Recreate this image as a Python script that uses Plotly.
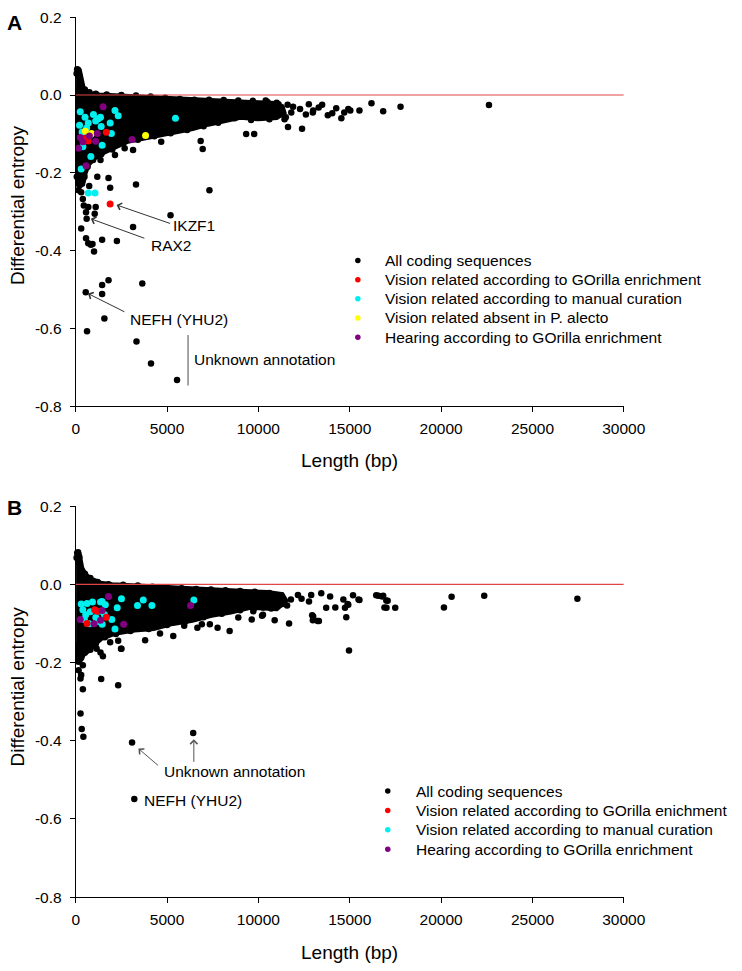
import plotly.graph_objects as go

W, H = 742, 971
FONT = "Liberation Sans, Arial, sans-serif"

# ---------------- Panel A data ----------------
A_core = [(20, 0.045), (60, 0.066), (120, 0.068), (200, 0.064), (260, 0.045), (320, 0.028), (420, 0.016),
          (600, 0.008), (850, 0.003), (1300, 0.0), (2200, -0.002), (3200, -0.003), (4200, -0.006),
          (5200, -0.009), (6200, -0.012), (7200, -0.014), (8200, -0.015), (9200, -0.016), (10200, -0.019),
          (10900, -0.022), (11300, -0.03), (11400, -0.045), (11000, -0.058), (10000, -0.061), (9000, -0.057),
          (8100, -0.065), (7250, -0.075), (6400, -0.086), (5500, -0.094), (4600, -0.102), (3700, -0.111),
          (2850, -0.119), (2100, -0.135), (1500, -0.148), (1000, -0.163), (700, -0.178), (520, -0.2),
          (420, -0.222), (280, -0.232), (120, -0.228), (40, -0.2), (10, -0.1)]
A_all = [(80, 0.066), (130, 0.064), (50, 0.055), (180, 0.052), (240, 0.035),
         (500, 0.014), (750, 0.007), (1100, 0.003), (1700, 0.001), (2500, 0.0), (3300, -0.001), (4100, -0.004),
         (4900, -0.007), (5700, -0.01), (6500, -0.012), (7300, -0.012), (8100, -0.013), (8900, -0.014),
         (9700, -0.015), (10500, -0.018), (11100, -0.024),
         (11200, -0.05), (10600, -0.062), (9600, -0.064), (8700, -0.06), (7800, -0.071), (7000, -0.08),
         (6100, -0.09), (5200, -0.098), (4300, -0.106), (3400, -0.115), (2600, -0.124), (2000, -0.14),
         (1400, -0.152), (950, -0.167), (650, -0.184), (480, -0.21), (350, -0.228), (200, -0.232), (60, -0.21),
         (22620, -0.026), (17780, -0.030), (16830, -0.042), (16190, -0.021), (15530, -0.040), (15030, -0.040),
         (14540, -0.060), (14040, -0.047), (14260, -0.034), (13490, -0.025), (13000, -0.040), (12760, -0.024),
         (12390, -0.087), (11620, -0.082), (12280, -0.036), (11500, -0.057), (10400, -0.014), (9770, -0.100),
         (9330, -0.100), (11900, -0.030), (12980, -0.045), (14920, -0.036), (11430, -0.062), (11800, -0.045),
         (12600, -0.050), (13300, -0.032), (13800, -0.052), (14700, -0.045), (11000, -0.020), (11600, -0.025),
         (7320, -0.245), (6950, -0.139), (6840, -0.118), (4680, -0.120), (3140, -0.141), (2680, -0.137),
         (3300, -0.230), (5190, -0.309), (3140, -0.339), (2255, -0.375), (1358, -0.167), (2150, -0.154),
         (1796, -0.213), (1886, -0.238), (740, -0.234), (1183, -0.210),
         (180, -0.217), (150, -0.245), (300, -0.250), (391, -0.267), (444, -0.284), (687, -0.288),
         (1094, -0.288), (565, -0.301), (600, -0.318), (1041, -0.305), (301, -0.343), (565, -0.368),
         (1447, -0.372), (687, -0.381), (829, -0.385), (1004, -0.402), (919, -0.383), (1796, -0.476),
         (1447, -0.488), (3645, -0.484), (1447, -0.511), (550, -0.507), (1569, -0.574), (620, -0.607),
         (3328, -0.633), (4121, -0.690), (5547, -0.732)]
A_gorilla = [(1675, -0.096), (687, -0.118), (450, -0.112), (1885, -0.280)]
A_manual = [(248, -0.043), (211, -0.078), (512, -0.057), (687, -0.072), (972, -0.050), (1094, -0.067),
            (1358, -0.057), (1395, -0.081), (2150, -0.040), (2325, -0.053), (1955, -0.099), (792, -0.103),
            (1447, -0.129), (391, -0.133), (829, -0.158), (301, -0.190), (687, -0.252), (1057, -0.252),
            (5460, -0.060), (1236, -0.061), (1886, -0.072), (600, -0.085), (350, -0.095)]
A_alecto = [(528, -0.093), (866, -0.099), (3825, -0.104)]
A_hearing = [(1500, -0.030), (248, -0.109), (159, -0.137), (391, -0.120), (1183, -0.099), (1094, -0.119),
             (565, -0.182), (3085, -0.114), (750, -0.105)]

# ---------------- Panel B data ----------------
B_core = [(20, 0.05), (60, 0.078), (120, 0.084), (190, 0.078), (250, 0.058), (330, 0.042), (470, 0.03),
          (650, 0.02), (900, 0.012), (1350, 0.003), (2000, -0.001), (3000, -0.003), (4500, -0.007),
          (6400, -0.011), (8100, -0.014), (9500, -0.018), (10500, -0.021), (11300, -0.026), (11500, -0.042),
          (11000, -0.062), (10000, -0.058), (9550, -0.059), (8490, -0.071), (7430, -0.079), (6380, -0.092),
          (5320, -0.100), (4265, -0.113), (3210, -0.117), (2150, -0.125), (1400, -0.138), (1000, -0.155),
          (700, -0.170), (450, -0.177), (250, -0.195), (100, -0.195), (20, -0.15)]
B_all = [(80, 0.080), (130, 0.082), (50, 0.068), (200, 0.070),
         (500, 0.027), (800, 0.016), (1200, 0.006), (1800, 0.0), (2600, -0.001), (3400, -0.003), (4200, -0.006),
         (5000, -0.008), (5800, -0.010), (6600, -0.012), (7400, -0.013), (8200, -0.015), (9000, -0.017),
         (9800, -0.019), (10600, -0.022), (11200, -0.028),
         (11300, -0.050), (10700, -0.062), (9800, -0.060), (9000, -0.066), (8000, -0.075), (7000, -0.084),
         (6000, -0.095), (5000, -0.104), (4000, -0.114), (3000, -0.119), (2200, -0.127), (1600, -0.135),
         (1100, -0.152), (800, -0.167), (500, -0.175), (300, -0.188), (150, -0.198),
         (27460, -0.037), (22360, -0.029), (20575, -0.032), (20155, -0.059), (17075, -0.042), (17010, -0.060),
         (17490, -0.060), (16570, -0.029), (16830, -0.029), (15530, -0.040), (15180, -0.028), (14960, -0.169),
         (14810, -0.084), (14920, -0.052), (14650, -0.039), (14210, -0.059), (13925, -0.031), (13710, -0.060),
         (13310, -0.094), (13000, -0.082), (13440, -0.023), (12165, -0.027), (11680, -0.100), (10890, -0.092),
         (10250, -0.078), (9635, -0.090), (8425, -0.119), (7765, -0.111), (6660, -0.111), (5940, -0.106),
         (5340, -0.132), (4615, -0.126), (3800, -0.143), (2480, -0.165), (1490, -0.184), (12890, -0.027),
         (12770, -0.044), (12360, -0.037), (11780, -0.039), (11570, -0.054), (10200, -0.080), (8900, -0.085),
         (10250, -0.059), (9720, -0.069), (11040, -0.035), (10510, -0.027), (9425, -0.025), (8930, -0.020),
         (15480, -0.039), (14880, -0.050), (16450, -0.028), (16770, -0.031), (17000, -0.041), (16900, -0.059),
         (6730, -0.077), (6905, -0.102), (7343, -0.102), (12980, -0.092), (13244, -0.094), (12944, -0.079),
         (14740, -0.060), (1886, -0.148), (2325, -0.144), (1147, -0.165), (1358, -0.174), (2504, -0.165),
         (391, -0.207), (159, -0.220), (301, -0.232), (264, -0.241), (391, -0.268), (1395, -0.242),
         (2325, -0.258), (264, -0.330), (330, -0.370), (420, -0.390), (3085, -0.4045), (6430, -0.380),
         (3207, -0.549)]
B_gorilla = [(1183, -0.069), (618, -0.100), (1675, -0.084), (1041, -0.065)]
B_manual = [(301, -0.050), (618, -0.049), (919, -0.045), (1358, -0.045), (1622, -0.052), (391, -0.065),
            (2504, -0.037), (2272, -0.060), (3381, -0.054), (3698, -0.040), (4173, -0.054), (6466, -0.040),
            (1976, -0.090), (2150, -0.114), (475, -0.090), (740, -0.101), (1569, -0.077), (1447, -0.044),
            (1358, -0.069), (1447, -0.102), (800, -0.070), (1100, -0.085), (550, -0.078), (1250, -0.095)]
B_hearing = [(1796, -0.031), (248, -0.090), (1004, -0.101), (1447, -0.067), (2626, -0.102), (6287, -0.054),
             (1358, -0.092)]

ZERO_LINE_X = [0, 30000]
ZERO_LINE_Y = [0, 0]

x_tickvals = [0, 5000, 10000, 15000, 20000, 25000, 30000]
x_ticktext = ["0", "5000", "10000", "15000", "20000", "25000", "30000"]
y_tickvals = [0.2, 0.0, -0.2, -0.4, -0.6, -0.8]
y_ticktext = ["0.2", "0.0", "-0.2", "-0.4", "-0.6", "-0.8"]

legend_A = [("All coding sequences", "black"),
            ("Vision related according to GOrilla enrichment", "#FF0000"),
            ("Vision related according to manual curation", "#00F0F0"),
            ("Vision related absent in P. alecto", "#FFFF00"),
            ("Hearing according to GOrilla enrichment", "#800080")]
legend_B = [("All coding sequences", "black"),
            ("Vision related according to GOrilla enichment", "#FF0000"),
            ("Vision related according to manual curation", "#00F0F0"),
            ("Hearing according to GOrilla enrichment", "#800080")]

# ---------------- layout geometry (pixels) ----------------
X_L, X_R = 74.3, 642.3
A_T, A_B = 8.3, 404.5
B_T, B_B = 506.0, 904.0
X_MAX = 30000.0


def xs(p):
    return [a for a, b in p]


def ys(p):
    return [b for a, b in p]


def pxx(v):
    return v / W


def pxy(v):
    return 1 - v / H


def px_to_x(p):
    return (p - X_L) / (X_R - X_L) * X_MAX


def py_to_y(p, top, bot):
    return 0.2 - (p - top) / (bot - top) * 1.0


fig = go.Figure()


def add_panel(core, allpts, colored, xa, ya):
    fig.add_trace(go.Scatter(x=xs(core), y=ys(core), mode="lines", fill="toself", fillcolor="black",
                             line=dict(color="black", width=5), xaxis=xa, yaxis=ya,
                             showlegend=False, hoverinfo="skip"))
    fig.add_trace(go.Scatter(x=xs(allpts), y=ys(allpts), mode="markers",
                             marker=dict(color="black", size=6.5),
                             xaxis=xa, yaxis=ya, showlegend=False, cliponaxis=False))
    fig.add_trace(go.Scatter(x=ZERO_LINE_X, y=ZERO_LINE_Y, mode="lines",
                             line=dict(color="rgb(225,70,70)", width=1.2), xaxis=xa, yaxis=ya,
                             showlegend=False, hoverinfo="skip"))
    for pts, col in colored:
        fig.add_trace(go.Scatter(x=xs(pts), y=ys(pts), mode="markers",
                                 marker=dict(color=col, size=7),
                                 xaxis=xa, yaxis=ya, showlegend=False, cliponaxis=False))


add_panel(A_core, A_all, [(A_manual, "#00F0F0"), (A_gorilla, "#FF0000"), (A_alecto, "#FFFF00"),
                          (A_hearing, "#800080")], "x", "y")
add_panel(B_core, B_all, [(B_manual, "#00F0F0"), (B_gorilla, "#FF0000"), (B_hearing, "#800080")], "x2", "y2")

# legend swatches (placed in each panel's own axes)
LEG_A_X, LEG_A_Y0, LEG_A_DY, LEG_A_TX = 366.7, 256.0, 19.5, 393.0
LEG_B_X, LEG_B_Y0, LEG_B_DY, LEG_B_TX = 397.7, 796.0, 19.7, 425.0
for items, lx, y0, dy, top, bot, xa, ya in [(legend_A, LEG_A_X, LEG_A_Y0, LEG_A_DY, A_T, A_B, "x", "y"),
                                            (legend_B, LEG_B_X, LEG_B_Y0, LEG_B_DY, B_T, B_B, "x2", "y2")]:
    fig.add_trace(go.Scatter(x=[px_to_x(lx)] * len(items),
                             y=[py_to_y(y0 + i * dy, top, bot) for i in range(len(items))], mode="markers",
                             marker=dict(color=[c for _, c in items], size=5.5),
                             xaxis=xa, yaxis=ya, showlegend=False, cliponaxis=False, hoverinfo="skip"))

axis_common = dict(showline=True, linecolor="black", linewidth=1, ticks="outside", ticklen=5, tickwidth=1,
                   tickcolor="black", showgrid=False, zeroline=False,
                   tickfont=dict(family=FONT, size=15.5, color="black"), fixedrange=True)
xdom = [pxx(X_L), pxx(X_R)]
fig.update_layout(
    width=W, height=H, margin=dict(l=0, r=0, t=0, b=0),
    paper_bgcolor="white", plot_bgcolor="white", showlegend=False,
    font=dict(family=FONT, color="black"),
    modebar=dict(bgcolor="rgba(0,0,0,0)", color="rgba(0,0,0,0)", activecolor="rgba(0,0,0,0)"),
    xaxis=dict(domain=xdom, range=[0, X_MAX], anchor="y", tickvals=x_tickvals, ticktext=x_ticktext,
               ticklabelstandoff=3, **axis_common),
    yaxis=dict(domain=[pxy(A_B), pxy(A_T)], range=[-0.8, 0.2], anchor="x", tickvals=y_tickvals,
               ticktext=y_ticktext, ticklabelstandoff=5, **axis_common),
    xaxis2=dict(domain=xdom, range=[0, X_MAX], anchor="y2", tickvals=x_tickvals, ticktext=x_ticktext,
                ticklabelstandoff=3, **axis_common),
    yaxis2=dict(domain=[pxy(B_B), pxy(B_T)], range=[-0.8, 0.2], anchor="x2", tickvals=y_tickvals,
                ticktext=y_ticktext, ticklabelstandoff=5, **axis_common),
)

ann = []


def paper_text(xp, yp, text, size=15.5, xanchor="left", bold=False, angle=0):
    ann.append(dict(x=pxx(xp), y=pxy(yp), xref="paper", yref="paper", text=("<b>%s</b>" % text) if bold else text,
                    showarrow=False, xanchor=xanchor, yanchor="middle", textangle=angle,
                    font=dict(family=FONT, size=size, color="black")))


def data_text(xa, ya, x, y, text, size=15.5):
    ann.append(dict(x=x, y=y, xref=xa, yref=ya, text=text, showarrow=False, xanchor="left", yanchor="middle",
                    font=dict(family=FONT, size=size, color="black")))


def arrow(xa, ya, x, y, axp, ayp, color="#333333", head=4, width=1, size=1.4):
    ann.append(dict(x=x, y=y, xref=xa, yref=ya, text="", showarrow=True, ax=axp, ay=ayp,
                    arrowhead=head, arrowsize=size, arrowwidth=width, arrowcolor=color, standoff=0))


paper_text(10.5, 14, "A", size=21, xanchor="center", bold=True)
paper_text(10.5, 507, "B", size=21, xanchor="center", bold=True)
paper_text(14, 200, "Differential entropy", size=19, xanchor="center", angle=-90)
paper_text(14, 690, "Differential entropy", size=19, xanchor="center", angle=-90)
paper_text((X_L + X_R) / 2, 460, "Length (bp)", size=19, xanchor="center")
paper_text((X_L + X_R) / 2, 960, "Length (bp)", size=19, xanchor="center")

for i, (name, _) in enumerate(legend_A):
    paper_text(LEG_A_TX, LEG_A_Y0 + i * LEG_A_DY, name)
for i, (name, _) in enumerate(legend_B):
    paper_text(LEG_B_TX, LEG_B_Y0 + i * LEG_B_DY, name)

data_text("x", "y", 5214, -0.3365, "IKZF1")
data_text("x", "y", 3994, -0.387, "RAX2")
data_text("x", "y", 2837, -0.576, "NEFH (YHU2)")
data_text("x", "y", 6378, -0.679, "Unknown annotation")
arrow("x", "y", 2240, -0.2825, 55, 19)
arrow("x", "y", 829, -0.318, 55, 20)
arrow("x", "y", 671, -0.510, 38, 19)
arrow("x", "y", 6150, -0.746, 0, -52, color="#888888", head=0, width=1.5)

data_text("x2", "y2", 4739, -0.478, "Unknown annotation")
data_text("x2", "y2", 3614, -0.5515, "NEFH (YHU2)")
arrow("x2", "y2", 3434, -0.420, 21, 18, color="#555555")
arrow("x2", "y2", 6466, -0.3964, 0, 24, color="#555555")

fig.update_layout(annotations=ann)
fig.write_html("out.html", post_script="document.body.style.margin='0px';",
               config={"displayModeBar": False})
